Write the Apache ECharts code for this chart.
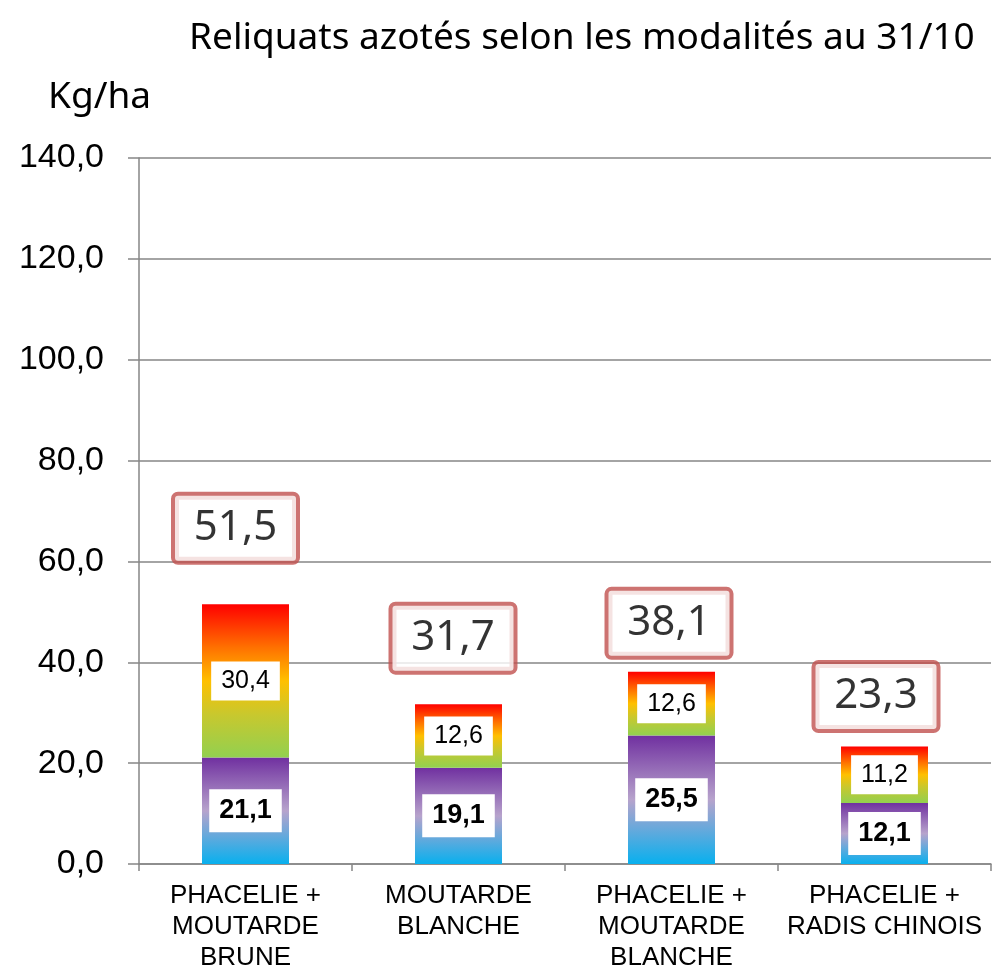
<!DOCTYPE html>
<html><head><meta charset="utf-8">
<script src="https://cdn.jsdelivr.net/npm/echarts@6/dist/echarts.min.js"></script>
<style>html,body{margin:0;padding:0;background:#fff}#c{width:992px;height:968px}</style>
</head><body><div id="c"></div>
<script>
const titleText = 'Reliquats azotés selon les modalités au 31/10';
const unitText = 'Kg/ha';
const categories = ['PHACELIE +\nMOUTARDE\nBRUNE', 'MOUTARDE\nBLANCHE', 'PHACELIE +\nMOUTARDE\nBLANCHE', 'PHACELIE +\nRADIS CHINOIS'];
const bottomValues = [21.1, 19.1, 25.5, 12.1];
const topValues = [30.4, 12.6, 12.6, 11.2];
const totals = [51.5, 31.7, 38.1, 23.3];
const yMin = 0, yMax = 140, yInterval = 20;

// label placement tweaks (style only)
const totalLabelOffsets = [[-10, -76], [-5.5, -66], [-2.5, -48.5], [-8.5, -50]];

const fmt = v => Number(v).toFixed(1).replace('.', ',');
const grey = '#868686';
const arial = '"Liberation Sans", Arial, sans-serif';

const chart = echarts.init(document.getElementById('c'));
chart.setOption({
  animation: false,
  backgroundColor: '#fff',
  title: [
    { text: titleText, left: 184, top: 15,
      textStyle: { fontFamily: 'Noto Sans', fontSize: 37, fontWeight: 'normal', color: '#000' } },
    { text: unitText, left: 43, top: 74,
      textStyle: { fontFamily: 'Noto Sans', fontSize: 37, fontWeight: 'normal', color: '#000' } }
  ],
  grid: { left: 139, right: 1, top: 158, bottom: 104, containLabel: false, outerBoundsMode: 'none' },
  xAxis: {
    type: 'category', data: categories,
    axisLine: { lineStyle: { color: grey, width: 1.5 } },
    axisTick: { show: true, length: 7, lineStyle: { color: grey, width: 1.5 } },
    axisLabel: { margin: 16, color: '#000', fontFamily: arial, fontSize: 26, lineHeight: 31, interval: 0 }
  },
  yAxis: {
    type: 'value', min: yMin, max: yMax, interval: yInterval,
    axisLine: { show: true, lineStyle: { color: grey, width: 1.5 } },
    axisTick: { show: true, length: 11, lineStyle: { color: grey, width: 1.5 } },
    splitLine: { lineStyle: { color: grey, width: 1.5 } },
    axisLabel: { margin: 35, color: '#000', fontFamily: arial, fontSize: 34, formatter: fmt }
  },
  series: [
    {
      name: 'bas', type: 'bar', stack: 'n', barWidth: 87, data: bottomValues,
      itemStyle: { color: new echarts.graphic.LinearGradient(0, 0, 0, 1, [
        { offset: 0, color: '#7030a0' },
        { offset: 0.5, color: '#b7a3cc' },
        { offset: 1, color: '#08b0ee' }
      ]) },
      label: { show: true, position: 'inside', formatter: p => fmt(p.value),
        fontFamily: arial, fontWeight: 'bold', fontSize: 27, color: '#000',
        backgroundColor: '#fff', padding: [6, 10], lineHeight: 31 }
    },
    {
      name: 'haut', type: 'bar', stack: 'n', barWidth: 87, data: topValues,
      itemStyle: { color: new echarts.graphic.LinearGradient(0, 0, 0, 1, [
        { offset: 0, color: '#ff0000' },
        { offset: 0.28, color: '#ff7000' },
        { offset: 0.5, color: '#ffc000' },
        { offset: 0.72, color: '#c8c82e' },
        { offset: 1, color: '#92d050' }
      ]) },
      label: { show: true, position: 'inside', formatter: p => fmt(p.value),
        fontFamily: arial, fontSize: 25, color: '#000',
        backgroundColor: '#fff', padding: [5, 10], lineHeight: 29 }
    },
    {
      name: 'total', type: 'scatter', symbolSize: 1, z: 5,
      itemStyle: { color: 'rgba(0,0,0,0)' },
      data: totals.map((t, i) => ({ value: [i, t],
        label: { offset: totalLabelOffsets[i] } })),
      label: { show: true, position: 'inside', formatter: p => fmt(p.value[1]),
        fontFamily: 'Noto Sans', fontSize: 42, color: '#000',
        backgroundColor: '#fff', borderColor: '#c0504d', borderWidth: 4, borderRadius: 3,
        width: 121, height: 65, lineHeight: 65, align: 'center', verticalAlign: 'middle', padding: 0 }
    }
  ]
});
</script></body></html>
